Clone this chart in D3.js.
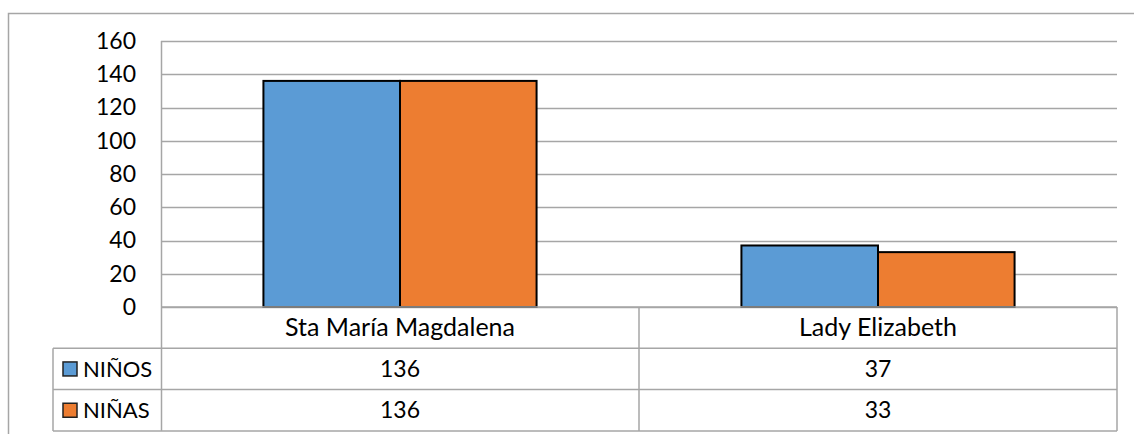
<!DOCTYPE html>
<html>
<head>
<meta charset="utf-8">
<script src="https://cdn.jsdelivr.net/npm/d3@7"></script>
<style>
	body { margin: 0; background: #fff; }
	svg { display: block; font-family: Lato, "Open Sans", sans-serif; }
</style>
</head>
<body>
<div id="chart"></div>
<script>
const categories = ["Sta María Magdalena", "Lady Elizabeth"];
const seriesNames = ["NIÑOS", "NIÑAS"];
const ninos = [136, 37];
const ninas = [136, 33];
const colors = ["#5B9BD5", "#ED7D31"];
const yTicks = [0, 20, 40, 60, 80, 100, 120, 140, 160];

const width = 1134, height = 434;
const plotLeft = 161, plotRight = 1117, plotTop = 41, plotBottom = 307;
const rowH = 41.3;
const legendLeft = 53;
const gridColor = "#a6a6a6";

const series = [ninos, ninas];

const svg = d3.select("#chart").append("svg")
	.attr("width", width)
	.attr("height", height);

// outer chart frame (clipped by window)
svg.append("rect")
	.attr("x", 8.5).attr("y", 13.5)
	.attr("width", 1200).attr("height", 500)
	.attr("fill", "none").attr("stroke", gridColor).attr("stroke-width", 1.5);

const x = d3.scaleBand().domain(categories).range([plotLeft, plotRight]);
const xs = d3.scaleBand().domain(seriesNames).range([0, x.bandwidth()]).paddingOuter(0.75);
const y = d3.scaleLinear().domain([0, 160]).range([plotBottom, plotTop]);

// gridlines
svg.append("g")
	.selectAll("line")
	.data(yTicks)
	.enter()
	.append("line")
	.attr("x1", plotLeft).attr("x2", plotRight)
	.attr("y1", (d) => Math.round(y(d)) + 0.5)
	.attr("y2", (d) => Math.round(y(d)) + 0.5)
	.attr("stroke", gridColor).attr("stroke-width", 1.5);

svg.append("line")
	.attr("x1", plotLeft + 0.5).attr("x2", plotLeft + 0.5)
	.attr("y1", plotTop).attr("y2", plotBottom)
	.attr("stroke", gridColor).attr("stroke-width", 1.5);

// y axis labels
const yAxis = svg.append("g")
	.attr("transform", `translate(${plotLeft},0)`)
	.call(d3.axisLeft(y).tickValues(yTicks).tickSize(0).tickPadding(25));
yAxis.select(".domain").remove();
yAxis.selectAll("text")
	.attr("font-size", 23)
	.attr("font-family", "Lato, sans-serif")
	.attr("fill", "#000");

// bars
const groups = svg.append("g")
	.selectAll("g")
	.data(seriesNames)
	.enter()
	.append("g")
	.attr("fill", (d, i) => colors[i]);

groups.selectAll("rect")
	.data((s, i) => categories.map((c, j) => ({ cat: c, s: s, v: series[i][j] })))
	.enter()
	.append("rect")
	.attr("x", (d) => x(d.cat) + xs(d.s))
	.attr("width", xs.bandwidth())
	.attr("y", (d) => y(d.v))
	.attr("height", (d) => y(0) - y(d.v))
	.attr("stroke", "#000")
	.attr("stroke-width", 2);

// data table
const table = svg.append("g");
const rows = [plotBottom, plotBottom + rowH, plotBottom + 2 * rowH, plotBottom + 3 * rowH];
const line = (x1, y1, x2, y2) =>
	table.append("line")
		.attr("x1", x1).attr("y1", y1).attr("x2", x2).attr("y2", y2)
		.attr("stroke", gridColor).attr("stroke-width", 1.5);

line(plotLeft, rows[0], plotRight, rows[0]);
line(legendLeft, rows[1], plotRight, rows[1]);
line(legendLeft, rows[2], plotRight, rows[2]);
line(legendLeft, rows[3], plotRight, rows[3]);
line(legendLeft, rows[1], legendLeft, rows[3]);
line(plotLeft + 0.5, rows[0], plotLeft + 0.5, rows[3]);
line(x(categories[1]), rows[0], x(categories[1]), rows[3]);
line(plotRight, rows[0], plotRight, rows[3]);

table.selectAll("text.cat")
	.data(categories)
	.enter()
	.append("text")
	.attr("class", "cat")
	.attr("x", (d) => x(d) + x.bandwidth() / 2)
	.attr("y", rows[0] + rowH / 2)
	.attr("dy", "0.35em")
	.attr("text-anchor", "middle")
	.attr("font-size", 25)
	.text((d) => d);

seriesNames.forEach((s, i) => {
	const cy = rows[i + 1] + rowH / 2;
	table.append("rect")
		.attr("x", 63).attr("y", cy - 7)
		.attr("width", 14).attr("height", 14)
		.attr("fill", colors[i])
		.attr("stroke", "#222").attr("stroke-width", 1.5);
	table.append("text")
		.attr("x", 83).attr("y", cy)
		.attr("dy", "0.35em")
		.attr("font-size", 22)
		.text(s);
	table.selectAll("text.v" + i)
		.data(categories)
		.enter()
		.append("text")
		.attr("class", "v" + i)
		.attr("x", (d) => x(d) + x.bandwidth() / 2)
		.attr("y", cy)
		.attr("dy", "0.35em")
		.attr("text-anchor", "middle")
		.attr("font-size", 23)
		.text((d, j) => series[i][j]);
});
</script>
</body>
</html>
